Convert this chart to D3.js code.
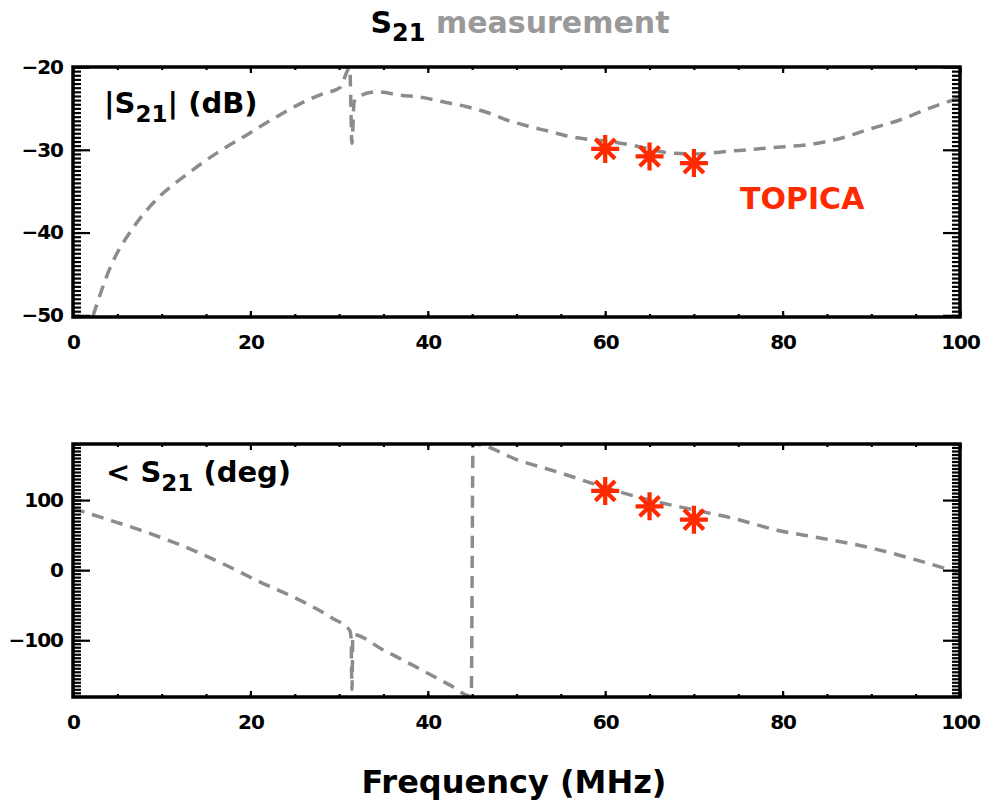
<!DOCTYPE html>
<html>
<head>
<meta charset="utf-8">
<style>
  body { margin: 0; background: #fff; }
  text { font-family: "DejaVu Sans", sans-serif; font-weight: bold; }
  .axis text { font-family: "DejaVu Sans", sans-serif; font-size: 20px; font-weight: bold; letter-spacing: -1px; }
</style>
</head>
<body>
<svg id="chart" width="985" height="804"></svg>
<script src="https://d3js.org/d3.v7.min.js"></script>
<script>
// |S21| in dB
var magFreq = [2.25, 4.2, 6.8, 9.8, 12.8, 16.2, 19.6, 22.5, 25.3, 28, 30.1, 31.2, 31.45, 31.7, 32.3, 34.3, 36.9, 39.5, 41.7, 44.4, 46.7, 48.9, 51.5, 53.8, 56, 58.6, 60.5, 62.8, 65, 67.3, 69.9, 71.8, 73.7, 76, 78.2, 80.5, 82.8, 85, 87.3, 89.5, 93.2, 96.5, 100];
var magDb = [-50.1, -44.2, -39.4, -35.6, -33.0, -30.4, -28.2, -26.3, -24.6, -23.3, -22.5, -20.1, -29.2, -24.2, -23.5, -23.0, -23.4, -23.7, -24.2, -24.8, -25.5, -26.4, -27.2, -27.8, -28.4, -28.8, -29.0, -29.4, -29.9, -30.4, -30.5, -30.4, -30.2, -30.0, -29.8, -29.6, -29.4, -29.0, -28.4, -27.6, -26.4, -25.0, -23.7];

// phase of S21 in degrees
var phFreq = [0, 3, 7.6, 12.1, 16.6, 21.1, 25.6, 29.3, 31.2, 31.35, 31.45, 31.55, 35, 38.8, 42.5, 44.9, 45.1, 50.4, 54.9, 60.2, 65, 70, 74.4, 79.4, 84.2, 89.5, 94.4, 100];
var phDeg = [88, 76, 57, 36, 11, -17, -43, -69, -86, -96, -170, -92, -114, -139, -164, -180, 180, 156, 139, 117, 100, 86, 74, 57, 46, 33, 17, -4];

// TOPICA points
var topFreq = [60, 65, 70];
var topDb = [-29.9, -30.8, -31.6];
var topDeg = [113, 91, 72];

var xTicks = [0, 20, 40, 60, 80, 100];
var magTicks = [-50, -40, -30, -20];
var phTicks = [-100, 0, 100];

var svg = d3.select("#chart");
var W = 887;
var grey = "#8c8c8c";
var red = "#ff2a00";

var x = d3.scaleLinear().domain([0, 100]).range([0, W]);

function panel(top, h, y, yMajor, yMinorStep, freqs, vals, pf, pv) {
    var g = svg.append("g").attr("transform", "translate(73," + top + ")");
    var xMinor = d3.range(0, 100.1, 5);
    var yd = y.domain();
    var yMinor = d3.range(Math.ceil(yd[0] / yMinorStep) * yMinorStep, yd[1] + 0.001, yMinorStep);

    var cid = "clip" + top;
    g.append("clipPath").attr("id", cid).append("rect").attr("width", W).attr("height", h);

    // the data curve
    var line = d3.line().curve(d3.curveMonotoneX).x((d, i) => x(freqs[i])).y((d, i) => y(vals[i]));
    g.append("path")
        .datum(vals)
        .attr("clip-path", "url(#" + cid + ")")
        .attr("d", line)
        .attr("fill", "none")
        .attr("stroke", grey)
        .attr("stroke-width", 3.5)
        .attr("stroke-dasharray", "12,8");

    // axes, ticks pointing inward
    g.append("g").attr("class", "axis").attr("transform", "translate(0," + h + ")")
        .call(d3.axisBottom(x).tickValues(xTicks).tickSize(-6).tickPadding(18).tickFormat(d3.format("d")));
    g.append("g").attr("transform", "translate(0," + h + ")")
        .call(d3.axisBottom(x).tickValues(xMinor).tickSize(-3).tickFormat(""));
    g.append("g").call(d3.axisTop(x).tickValues(xTicks).tickSize(-6).tickFormat(""));
    g.append("g").call(d3.axisTop(x).tickValues(xMinor).tickSize(-3).tickFormat(""));

    g.append("g").attr("class", "axis")
        .call(d3.axisLeft(y).tickValues(yMajor).tickSize(-17).tickPadding(10).tickFormat(d3.format("d")));
    g.append("g").call(d3.axisLeft(y).tickValues(yMinor).tickSize(-8).tickFormat(""));
    g.append("g").attr("transform", "translate(" + W + ",0)")
        .call(d3.axisRight(y).tickValues(yMajor).tickSize(-17).tickFormat(""));
    g.append("g").attr("transform", "translate(" + W + ",0)")
        .call(d3.axisRight(y).tickValues(yMinor).tickSize(-8).tickFormat(""));

    g.selectAll(".domain").remove();
    g.selectAll(".tick line").attr("stroke", "#000").attr("stroke-width", 2.2);
    g.selectAll(".tick text").attr("fill", "#000");

    g.append("rect").attr("width", W).attr("height", h)
        .attr("fill", "none").attr("stroke", "#000").attr("stroke-width", 3.5);

    // TOPICA asterisks
    var r = 14;
    g.selectAll(".star")
        .data(pv)
        .enter()
        .append("path")
        .attr("class", "star")
        .attr("transform", (d, i) => "translate(" + x(pf[i]) + "," + y(d) + ")")
        .attr("d", () => {
            var p = d3.path();
            for (var k = 0; k < 4; k++) {
                var a = k * Math.PI / 4;
                p.moveTo(-r * Math.cos(a), -r * Math.sin(a));
                p.lineTo(r * Math.cos(a), r * Math.sin(a));
            }
            return p.toString();
        })
        .attr("stroke", red)
        .attr("stroke-width", 4.2)
        .attr("fill", "none");

    return g;
}

var yMag = d3.scaleLinear().domain([-50.2, -20]).range([250, 0]);
var g1 = panel(67, 250, yMag, magTicks, 0.5, magFreq, magDb, topFreq, topDb);

var yPh = d3.scaleLinear().domain([-181, 180]).range([253, 0]);
var g2 = panel(444, 253, yPh, phTicks, 5, phFreq, phDeg, topFreq, topDeg);

// panel labels
var l1 = g1.append("text").attr("x", 31).attr("y", 46).attr("font-size", 29).attr("fill", "#000");
l1.append("tspan").text("|S");
l1.append("tspan").attr("font-size", 23).attr("dy", 9).text("21");
l1.append("tspan").attr("dy", -9).text("| (dB)");

var l2 = g2.append("text").attr("x", 33).attr("y", 38).attr("font-size", 29).attr("fill", "#000");
l2.append("tspan").text("< S");
l2.append("tspan").attr("font-size", 23).attr("dy", 9).text("21");
l2.append("tspan").attr("dy", -9).text(" (deg)");

g1.append("text").attr("x", 667).attr("y", 142).attr("font-size", 30).attr("fill", red).text("TOPICA");

// title
var t = svg.append("text").attr("x", 520).attr("y", 33).attr("text-anchor", "middle").attr("font-size", 30);
t.append("tspan").attr("fill", "#000").text("S");
t.append("tspan").attr("fill", "#000").attr("font-size", 24).attr("dy", 8).text("21");
t.append("tspan").attr("fill", "#999").attr("dy", -8).text(" measurement");

svg.append("text").attr("x", 514).attr("y", 793).attr("text-anchor", "middle")
    .attr("font-size", 32).attr("fill", "#000").text("Frequency (MHz)");
</script>
</body>
</html>
